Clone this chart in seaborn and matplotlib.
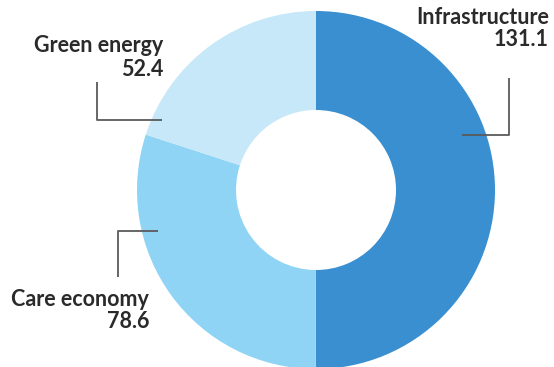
import matplotlib
matplotlib.use("Agg")
import matplotlib.pyplot as plt
import seaborn as sns

sns.set_style("white")
plt.rcParams["font.family"] = ["Lato", "DejaVu Sans"]

# Spending by area
categories = ["Infrastructure", "Care economy", "Green energy"]
values = [131.1, 78.6, 52.4]
colors = ["#3a8fd1", "#8fd4f4", "#c6e8f8"]

W, H = 554, 367
fig = plt.figure(figsize=(W / 100, H / 100), dpi=100)
ax = fig.add_axes([0, 0, 1, 1])

cx, cy, r = 316, H - 190, 179
ax.pie(values, colors=colors, startangle=90, counterclock=False,
       center=(cx, cy), radius=r, frame=True,
       wedgeprops=dict(width=r - 80, linewidth=0))
ax.set_xlim(0, W)
ax.set_ylim(0, H)
ax.set_aspect("equal")
ax.axis("off")

line_kw = dict(color="#5a5a5a", lw=1.3, solid_capstyle="butt")
text_kw = dict(ha="right", va="center", fontsize=15.5, fontweight="bold", color="#2a2a2a")

# Green energy callout
ax.plot([97, 97, 162], [H - 82, H - 120, H - 120], **line_kw)
ax.text(163, H - 45, categories[2], **text_kw)
ax.text(163, H - 69, f"{values[2]:.1f}", **text_kw)

# Infrastructure callout
ax.plot([509, 509, 462], [H - 78, H - 135, H - 135], **line_kw)
ax.text(549, H - 17, categories[0], **text_kw)
ax.text(549, H - 40, f"{values[0]:.1f}", **text_kw)

# Care economy callout
ax.plot([118, 118, 158], [H - 277, H - 231, H - 231], **line_kw)
ax.text(149, H - 299, categories[1], **text_kw)
ax.text(149, H - 322, f"{values[1]:.1f}", **text_kw)

fig.savefig("out.png", dpi=100)
